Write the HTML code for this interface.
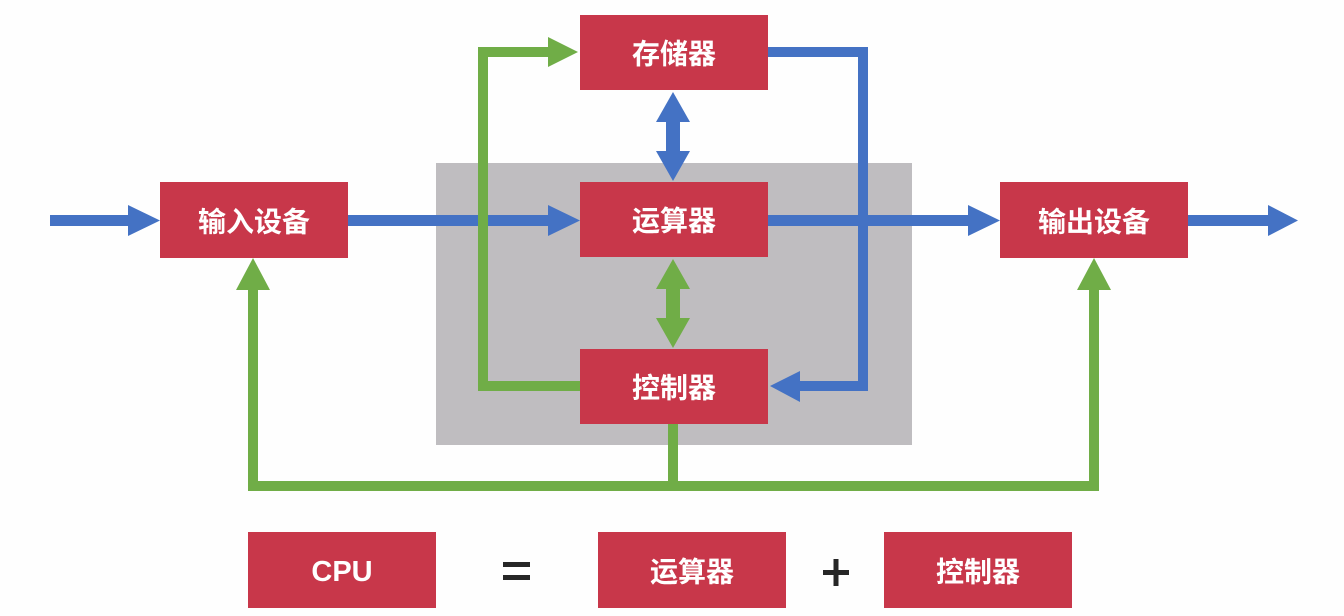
<!DOCTYPE html>
<html><head><meta charset="utf-8"><style>
html,body{margin:0;padding:0;background:#fff;}
svg{display:block;}
text{font-family:"Liberation Sans","Noto Sans CJK SC",sans-serif;font-weight:bold;fill:#fff;font-size:28px;text-anchor:middle;dominant-baseline:central;}
</style></head><body>
<svg width="1344" height="616" viewBox="0 0 1344 616" xmlns="http://www.w3.org/2000/svg">
<rect x="0" y="0" width="1344" height="616" fill="#fefefe"/>
<rect x="436" y="163" width="476" height="282" fill="#bfbdc0"/>
<g fill="#4472c4">
<rect x="50" y="215" width="80" height="11"/><polygon points="128,205 160,220.5 128,236"/>
<rect x="348" y="215" width="202" height="11"/><polygon points="548,205 580,220.5 548,236"/>
<rect x="768" y="215" width="202" height="11"/><polygon points="968,205 1000,220.5 968,236"/>
<rect x="1188" y="215" width="82" height="11"/><polygon points="1268,205 1298,220.5 1268,236"/>
<polyline points="768,52 863,52 863,386 795,386" fill="none" stroke="#4472c4" stroke-width="10"/>
<polygon points="800,371 770,386 800,402"/>
<rect x="666" y="118" width="14" height="36"/>
<polygon points="673,92 690,122 656,122"/><polygon points="673,181 690,151 656,151"/>
</g>
<g fill="#70ad47">
<polyline points="580,386 483,386 483,52 550,52" fill="none" stroke="#70ad47" stroke-width="10"/>
<polygon points="548,37 578,52 548,67"/>
<rect x="666" y="286" width="14" height="36"/>
<polygon points="673,259 690,289 656,289"/><polygon points="673,348 690,318 656,318"/>
<polyline points="673,424 673,486 253,486 253,288" fill="none" stroke="#70ad47" stroke-width="10"/>
<polyline points="673,486 1094,486 1094,288" fill="none" stroke="#70ad47" stroke-width="10"/>
<polygon points="253,258 270,290 236,290"/>
<polygon points="1094,258 1111,290 1077,290"/>
</g>
<g fill="#c8374a">
<rect x="580" y="15" width="188" height="75"/>
<rect x="580" y="182" width="188" height="75"/>
<rect x="580" y="349" width="188" height="75"/>
<rect x="160" y="182" width="188" height="76"/>
<rect x="1000" y="182" width="188" height="76"/>
<rect x="248" y="532" width="188" height="76"/>
<rect x="598" y="532" width="188" height="76"/>
<rect x="884" y="532" width="188" height="76"/>
</g>
<text x="674" y="54">存储器</text>
<text x="674" y="221">运算器</text>
<text x="674" y="388">控制器</text>
<text x="254" y="222">输入设备</text>
<text x="1094" y="222">输出设备</text>
<text x="342" y="572" style="font-size:29px">CPU</text>
<text x="692" y="572">运算器</text>
<text x="978" y="572">控制器</text>
<rect x="503" y="562" width="27" height="5" fill="#262626"/>
<rect x="503" y="575" width="27" height="5" fill="#262626"/>
<rect x="823" y="570" width="26" height="5" fill="#262626"/>
<rect x="833.5" y="559" width="5" height="27" fill="#262626"/>
</svg>
</body></html>
